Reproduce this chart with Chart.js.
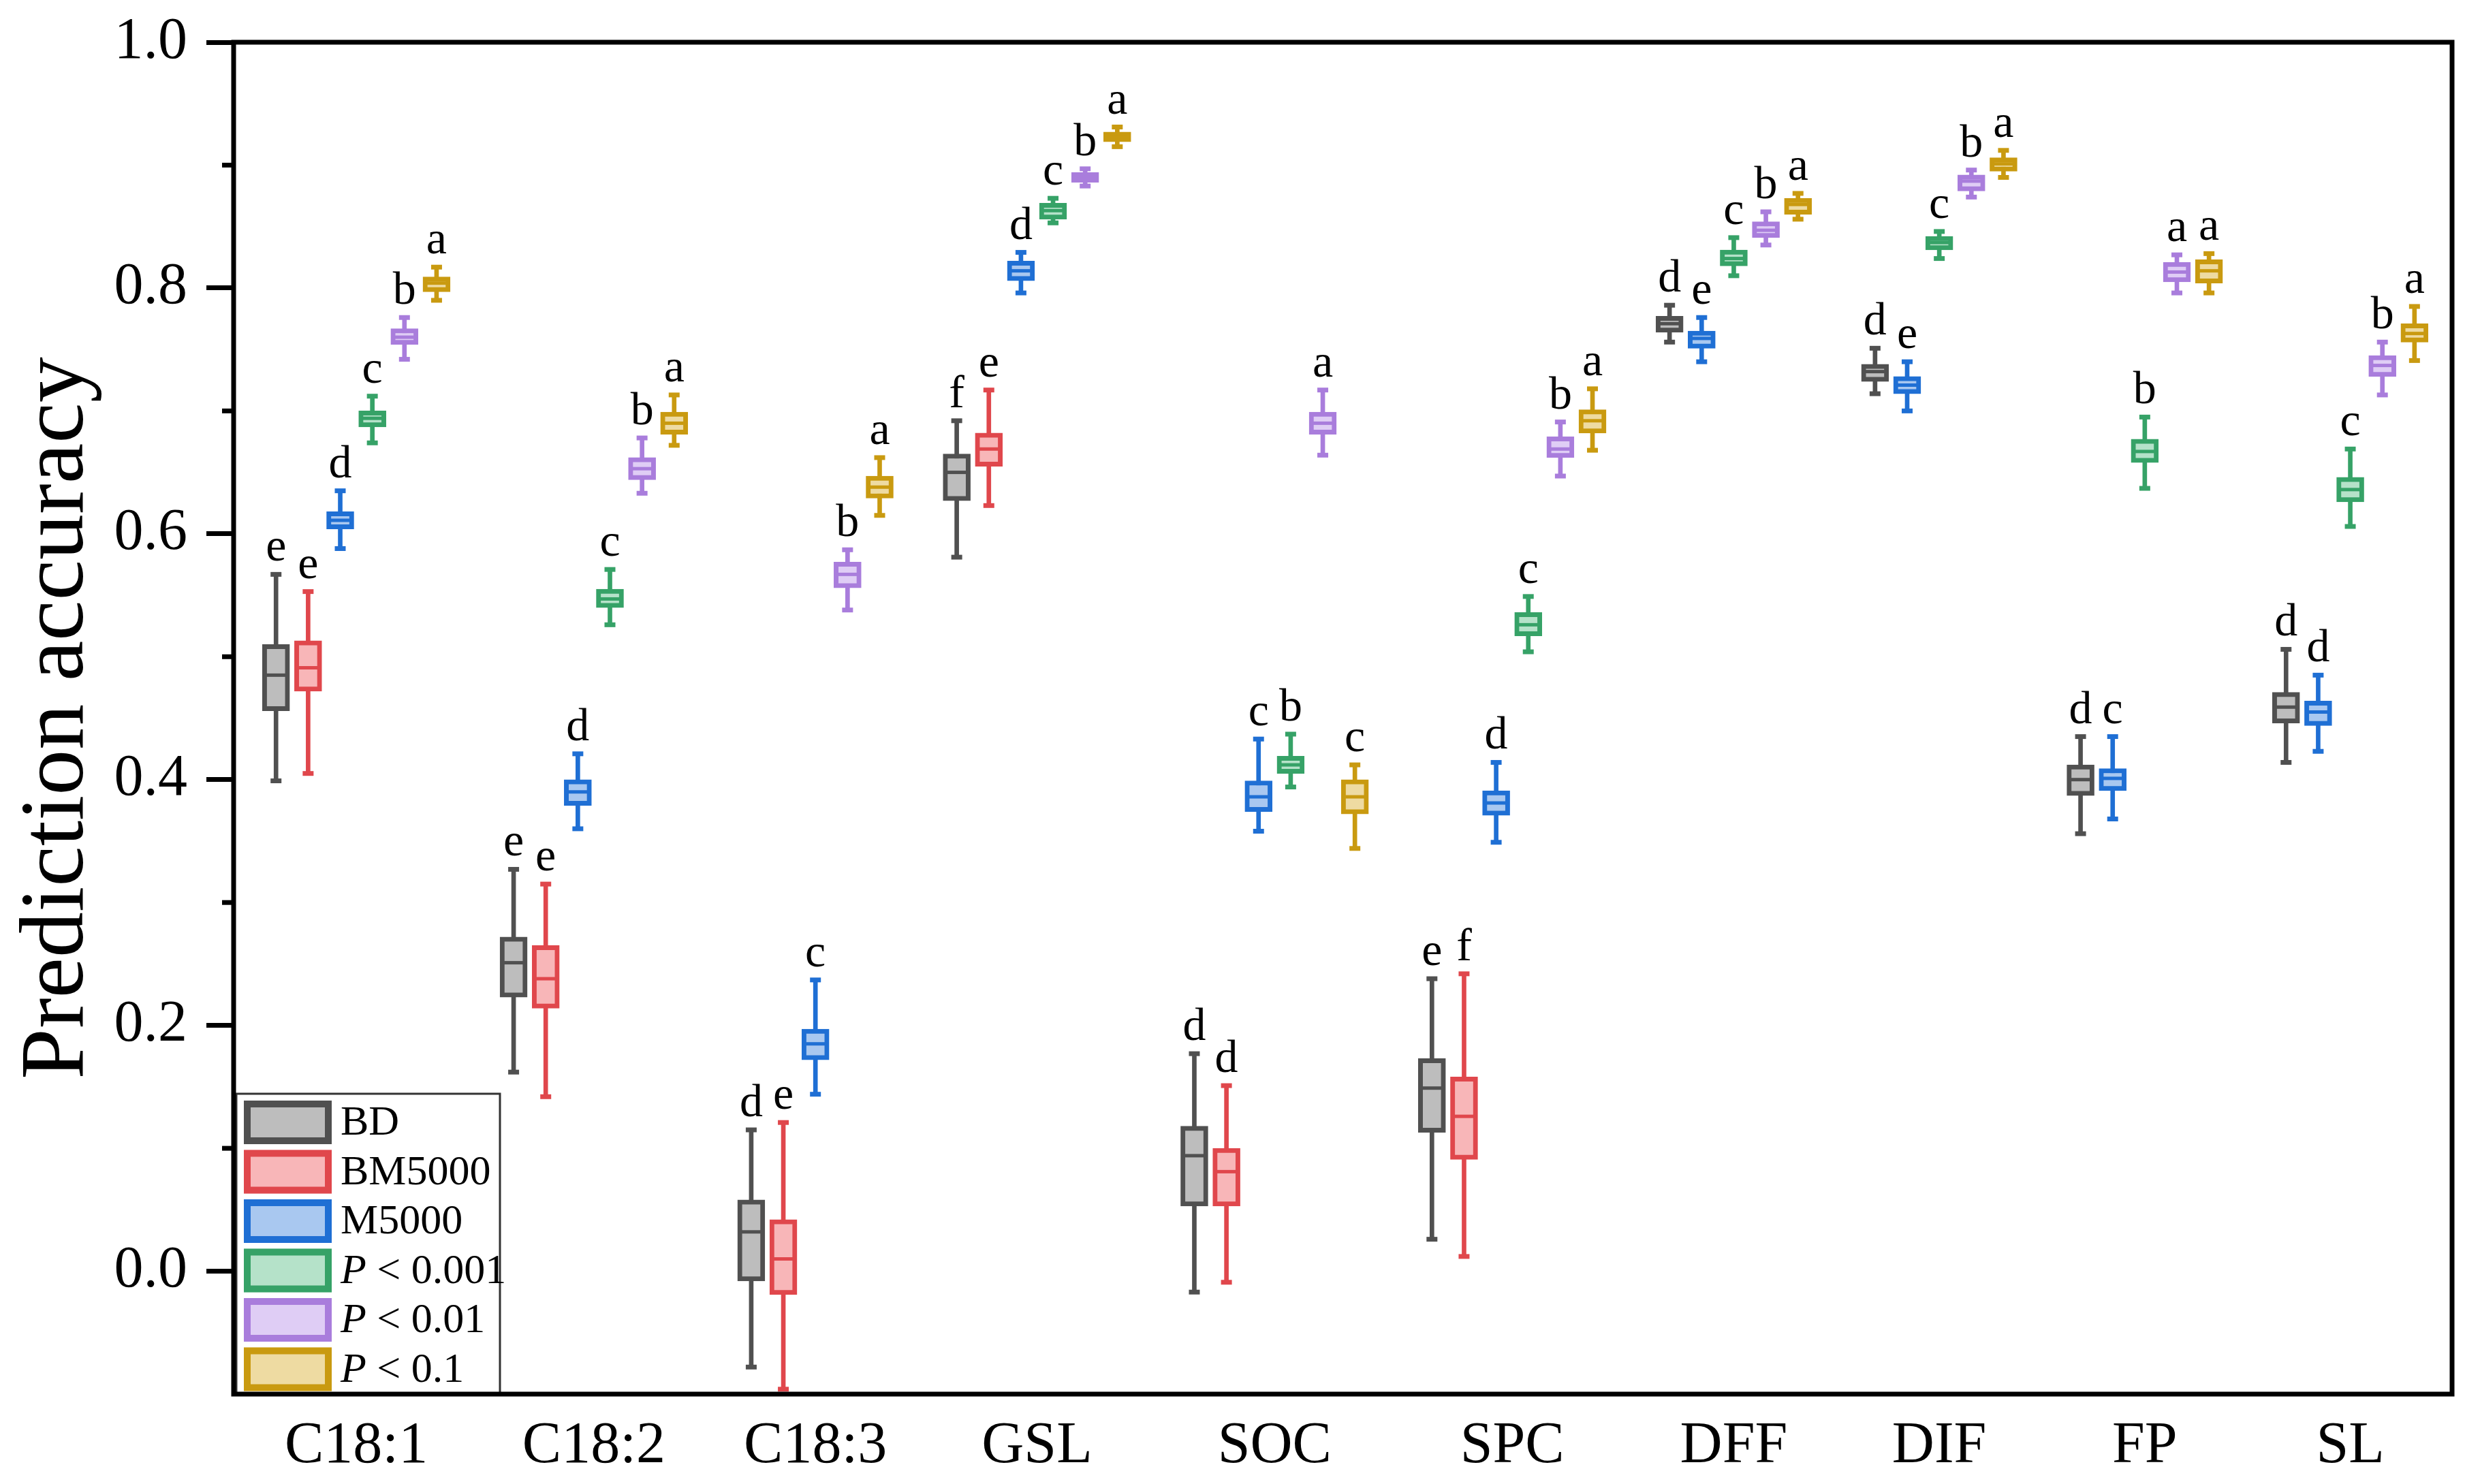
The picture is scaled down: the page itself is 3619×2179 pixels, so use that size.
<!DOCTYPE html>
<html>
<head>
<meta charset="utf-8">
<script src="https://cdn.jsdelivr.net/npm/chart.js@4.4.1/dist/chart.umd.min.js"></script>
<style>
    html, body { margin: 0; padding: 0; background: #ffffff; }
    #wrap { width: 3619px; height: 2179px; position: relative; }
</style>
</head>
<body>
<div id="wrap"><canvas id="chartCanvas"></canvas></div>
<script>
var categories = ['C18:1', 'C18:2', 'C18:3', 'GSL', 'SOC', 'SPC', 'DFF', 'DIF', 'FP', 'SL'];
var seriesNames = ['BD', 'BM5000', 'M5000', 'P < 0.001', 'P < 0.01', 'P < 0.1'];
var yTicks = [0.0, 0.2, 0.4, 0.6, 0.8, 1.0];

// each box: [min, q1, median, q3, max], null = not shown
var bdStats = [
    [0.399, 0.456, 0.485, 0.510, 0.567],
    [0.162, 0.223, 0.251, 0.272, 0.327],
    [-0.078, -0.008, 0.032, 0.058, 0.115],
    [0.581, 0.627, 0.650, 0.665, 0.692],
    [-0.017, 0.053, 0.094, 0.118, 0.177],
    [0.026, 0.113, 0.149, 0.173, 0.238],
    [0.756, 0.764, 0.771, 0.777, 0.786],
    [0.714, 0.724, 0.732, 0.738, 0.751],
    [0.356, 0.387, 0.400, 0.412, 0.435],
    [0.414, 0.446, 0.459, 0.471, 0.506]
];
var bmStats = [
    [0.405, 0.472, 0.491, 0.513, 0.553],
    [0.142, 0.214, 0.238, 0.265, 0.315],
    [-0.096, -0.019, 0.010, 0.042, 0.121],
    [0.623, 0.655, 0.669, 0.682, 0.717],
    [-0.009, 0.053, 0.081, 0.100, 0.151],
    [0.012, 0.091, 0.126, 0.158, 0.242],
    null, null, null, null
];
var mStats = [
    [0.588, 0.604, 0.611, 0.618, 0.635],
    [0.360, 0.379, 0.390, 0.400, 0.421],
    [0.144, 0.172, 0.185, 0.197, 0.237],
    [0.796, 0.806, 0.814, 0.822, 0.829],
    [0.358, 0.374, 0.386, 0.399, 0.433],
    [0.349, 0.371, 0.381, 0.391, 0.414],
    [0.740, 0.751, 0.759, 0.765, 0.776],
    [0.700, 0.714, 0.721, 0.728, 0.740],
    [0.368, 0.391, 0.401, 0.409, 0.435],
    [0.423, 0.444, 0.455, 0.464, 0.485]
];
var p001Stats = [
    [0.674, 0.687, 0.694, 0.700, 0.712],
    [0.526, 0.540, 0.547, 0.555, 0.571],
    null,
    [0.853, 0.856, 0.863, 0.869, 0.873],
    [0.394, 0.405, 0.412, 0.419, 0.437],
    [0.504, 0.517, 0.526, 0.536, 0.549],
    [0.810, 0.818, 0.824, 0.831, 0.841],
    [0.824, 0.831, 0.837, 0.842, 0.846],
    [0.637, 0.658, 0.667, 0.677, 0.695],
    [0.606, 0.626, 0.636, 0.646, 0.669]
];
var p01Stats = [
    [0.742, 0.754, 0.760, 0.767, 0.776],
    [0.633, 0.644, 0.653, 0.662, 0.678],
    [0.538, 0.556, 0.567, 0.577, 0.587],
    [0.883, 0.886, 0.890, 0.894, 0.897],
    [0.664, 0.681, 0.690, 0.699, 0.717],
    [0.647, 0.662, 0.669, 0.679, 0.691],
    [0.835, 0.841, 0.847, 0.854, 0.862],
    [0.874, 0.879, 0.887, 0.892, 0.896],
    [0.796, 0.805, 0.813, 0.821, 0.827],
    [0.713, 0.728, 0.737, 0.745, 0.756]
];
var p1Stats = [
    [0.790, 0.797, 0.804, 0.809, 0.817],
    [0.672, 0.681, 0.690, 0.699, 0.713],
    [0.615, 0.629, 0.638, 0.647, 0.662],
    [0.915, 0.919, 0.923, 0.927, 0.931],
    [0.344, 0.372, 0.386, 0.400, 0.412],
    [0.668, 0.682, 0.692, 0.701, 0.718],
    [0.856, 0.860, 0.868, 0.873, 0.877],
    [0.890, 0.895, 0.901, 0.906, 0.912],
    [0.796, 0.804, 0.814, 0.823, 0.828],
    [0.741, 0.756, 0.763, 0.771, 0.785]
];

var bdLetters   = ['e', 'e', 'd', 'f', 'd', 'e', 'd', 'd', 'd', 'd'];
var bmLetters   = ['e', 'e', 'e', 'e', 'd', 'f', null, null, null, null];
var mLetters    = ['d', 'd', 'c', 'd', 'c', 'd', 'e', 'e', 'c', 'd'];
var p001Letters = ['c', 'c', null, 'c', 'b', 'c', 'c', 'c', 'b', 'c'];
var p01Letters  = ['b', 'b', 'b', 'b', 'a', 'b', 'b', 'b', 'a', 'b'];
var p1Letters   = ['a', 'a', 'a', 'a', 'c', 'a', 'a', 'a', 'a', 'a'];

var lineColors = ['#505050', '#e0474c', '#1f6fd4', '#36a267', '#a97ddc', '#c99a10'];
var fillColors = ['#bdbdbd', '#f8b6b8', '#a9c8f0', '#b5e2c9', '#dfcdf5', '#eedba2'];

var allStats = [bdStats, bmStats, mStats, p001Stats, p01Stats, p1Stats];
var allLetters = [bdLetters, bmLetters, mLetters, p001Letters, p01Letters, p1Letters];

var serif = '"Liberation Serif", "Times New Roman", serif';
Chart.defaults.font.family = serif;
Chart.defaults.color = '#000';

// slot positions: present boxes sit side by side, groups separated by a gap
var groupGap = 1.4;
var positions = allStats.map(function () { return []; });
var groupCenters = [];
var cursor = 0;
categories.forEach(function (cat, c) {
    var first = null, last = null;
    for (var s = 0; s < allStats.length; s++) {
        if (allStats[s][c]) {
            positions[s][c] = cursor;
            if (first === null) first = cursor;
            last = cursor;
            cursor += 1;
        } else {
            positions[s][c] = null;
        }
    }
    groupCenters.push((first + last) / 2);
    cursor += groupGap;
});
var lastPos = cursor - 1 - groupGap;

var datasets = [];
allStats.forEach(function (stats, s) {
    var whisk = [], box = [], med = [], caps = [];
    stats.forEach(function (v, c) {
        if (!v) return;
        var x = positions[s][c];
        whisk.push({ x: x, y: [v[0], v[4]] });
        box.push({ x: x, y: [v[1], v[3]] });
        med.push({ x: x, y: v[2] });
        caps.push({ x: x, y: v[0] });
        caps.push({ x: x, y: v[4] });
    });
    datasets.push({
        type: 'bar', label: seriesNames[s] + ' whisker', data: whisk,
        backgroundColor: lineColors[s], borderWidth: 0,
        barThickness: 6, maxBarThickness: 6, grouped: false, order: 10
    });
    datasets.push({
        type: 'bar', label: seriesNames[s], data: box,
        backgroundColor: fillColors[s], borderColor: lineColors[s], borderWidth: 7,
        borderSkipped: false, barThickness: 40, maxBarThickness: 40, grouped: false, order: 5
    });
    datasets.push({
        type: 'scatter', label: seriesNames[s] + ' median', data: med,
        pointStyle: 'line', pointRadius: 14, pointBorderWidth: 5,
        pointBorderColor: lineColors[s], borderColor: lineColors[s], order: 2
    });
    datasets.push({
        type: 'scatter', label: seriesNames[s] + ' caps', data: caps,
        pointStyle: 'line', pointRadius: 8, pointBorderWidth: 7,
        pointBorderColor: lineColors[s], borderColor: lineColors[s], order: 1
    });
});

function isMajor(value) {
    var k = Math.round(value * 10);
    return k >= 0 && yTicks.some(function (t) { return Math.round(t * 10) === k; });
}

var framePlugin = {
    id: 'frame',
    afterDraw: function (chart) {
        var ctx = chart.ctx, a = chart.chartArea, y = chart.scales.y;
        ctx.save();
        ctx.strokeStyle = '#000';
        // minor ticks
        ctx.lineWidth = 7;
        for (var k = 1; k < 10; k += 2) {
            var py = y.getPixelForValue(k / 10);
            ctx.beginPath();
            ctx.moveTo(a.left - 17, py);
            ctx.lineTo(a.left, py);
            ctx.stroke();
        }
        ctx.lineWidth = 7;
        ctx.strokeRect(a.left, a.top, a.right - a.left, a.bottom - a.top);
        ctx.restore();
    }
};

var lettersPlugin = {
    id: 'letters',
    afterDatasetsDraw: function (chart) {
        var ctx = chart.ctx, xs = chart.scales.x, ys = chart.scales.y;
        ctx.save();
        ctx.fillStyle = '#000';
        ctx.font = '68px ' + serif;
        ctx.textAlign = 'center';
        ctx.textBaseline = 'alphabetic';
        allLetters.forEach(function (letters, s) {
            letters.forEach(function (l, c) {
                if (!l || !allStats[s][c]) return;
                var px = xs.getPixelForValue(positions[s][c]);
                var py = ys.getPixelForValue(allStats[s][c][4]) - 20;
                ctx.fillText(l, px, py);
            });
        });
        ctx.restore();
    }
};

var legendPlugin = {
    id: 'boxLegend',
    afterDatasetsDraw: function (chart) {
        var ctx = chart.ctx, a = chart.chartArea;
        var rowH = 72.5;
        var left = a.left + 4, width = 387;
        var top = a.bottom - rowH * seriesNames.length - 6;
        ctx.save();
        ctx.fillStyle = '#fff';
        ctx.fillRect(left, top, width, a.bottom - top);
        ctx.strokeStyle = '#333';
        ctx.lineWidth = 3;
        ctx.strokeRect(left, top, width, a.bottom - top);
        seriesNames.forEach(function (name, s) {
            var ry = top + 6 + s * rowH;
            ctx.fillStyle = fillColors[s];
            ctx.fillRect(left + 11, ry + 4, 129, 64);
            ctx.strokeStyle = lineColors[s];
            ctx.lineWidth = 10;
            ctx.strokeRect(left + 16, ry + 9, 119, 54);
            ctx.fillStyle = '#000';
            ctx.textBaseline = 'middle';
            ctx.textAlign = 'left';
            var tx = left + 153, ty = ry + 38;
            if (name.indexOf('P ') === 0) {
                ctx.font = 'italic 62px ' + serif;
                ctx.fillText('P', tx, ty);
                var w = ctx.measureText('P').width;
                ctx.font = '62px ' + serif;
                ctx.fillText(name.substring(1), tx + w, ty);
            } else {
                ctx.font = '62px ' + serif;
                ctx.fillText(name, tx, ty);
            }
        });
        ctx.restore();
    }
};

var ctx = document.getElementById('chartCanvas').getContext('2d');
var myChart = new Chart(ctx, {
    type: 'bar',
    data: { datasets: datasets },
    options: {
        responsive: true,
        maintainAspectRatio: false,
        devicePixelRatio: 1,
        animation: false,
        events: [],
        layout: { padding: { top: 62, right: 14, left: 0, bottom: 0 } },
        plugins: {
            legend: { display: false },
            tooltip: { enabled: false }
        },
        scales: {
            x: {
                type: 'linear',
                offset: false,
                min: -1.32,
                max: lastPos + 1.17,
                grid: { display: false },
                border: { display: false },
                afterBuildTicks: function (scale) {
                    scale.ticks = groupCenters.map(function (v) { return { value: v }; });
                },
                afterFit: function (scale) {
                    scale.height = 132;
                    scale.paddingLeft = 0;
                    scale.paddingRight = 0;
                },
                ticks: {
                    autoSkip: false,
                    maxRotation: 0,
                    padding: 18,
                    font: { size: 86 },
                    callback: function (value, index) { return categories[index]; }
                }
            },
            y: {
                type: 'linear',
                min: -0.1,
                max: 1.0,
                afterFit: function (scale) {
                    scale.width = 343;
                    scale.paddingTop = 0;
                    scale.paddingBottom = 0;
                },
                grid: {
                    display: true,
                    drawOnChartArea: false,
                    drawTicks: true,
                    tickLength: 40,
                    tickWidth: 7,
                    tickColor: function (c) { return c.tick && isMajor(c.tick.value) ? '#000' : 'rgba(0,0,0,0)'; }
                },
                border: { display: false },
                ticks: {
                    stepSize: 0.1,
                    padding: 28,
                    font: { size: 86 },
                    callback: function (value) { return isMajor(value) ? value.toFixed(1) : ''; }
                },
                title: {
                    display: true,
                    text: 'Prediction accuracy',
                    font: { size: 134, lineHeight: 1.2 },
                    padding: { top: 5, bottom: 0 }
                }
            }
        }
    },
    plugins: [legendPlugin, lettersPlugin, framePlugin]
});
</script>
</body>
</html>
